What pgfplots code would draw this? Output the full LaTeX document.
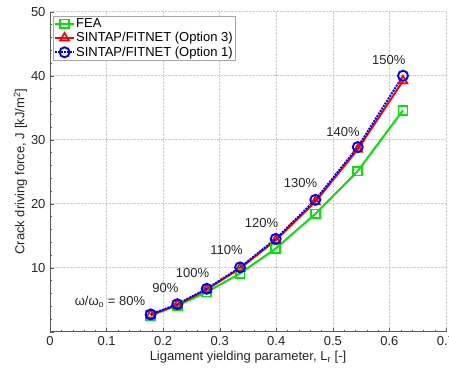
\documentclass[border=0pt]{standalone}
\usepackage{pgfplots}
\pgfplotsset{compat=1.18}
\usepackage{fontspec}
\setmainfont{Liberation Sans}
\begin{document}
\fontsize{13}{15}\selectfont
\begin{tikzpicture}
\begin{axis}[
  scale only axis,
  width=396pt, height=320pt,
  xmin=0, xmax=0.7, ymin=0, ymax=50,
  axis x line*=bottom, axis y line*=left,
  axis line style={gray!70!black, line width=0.8pt},
  xtick={0,0.1,...,0.7},
  xticklabels={0,0.1,0.2,0.3,0.4,0.5,0.6,0.7},
  ytick={0,10,20,30,40,50},
  yticklabels={,10,20,30,40,50},
  minor x tick num=4, minor y tick num=4,
  tick align=inside,
  major tick length=4pt, minor tick length=2pt,
  tick style={gray!70!black},
  ticklabel style={font=\fontsize{13}{15}\selectfont, text=black!85},
  /pgf/number format/assume math mode=true,
  grid=major,
  major grid style={densely dotted, gray!40, line width=0.5pt},
  xlabel={Ligament yielding parameter, L\textsubscript{r} [-]},
  ylabel={Crack driving force, J [kJ/m\textsuperscript{2}]},
  label style={font=\fontsize{13}{15}\selectfont, text=black!85},
  xlabel style={yshift=3pt},
  ylabel style={yshift=-5pt},
  legend style={at={(0.008,0.988)}, anchor=north west, draw=gray!70, line width=0.6pt,
    font=\fontsize{13}{14}\selectfont, inner sep=1pt, row sep=0pt,
    nodes={inner sep=1.5pt}},
  legend cell align=left,
  legend image code/.code={
    \draw[mark repeat=2,mark phase=2,#1]
      plot coordinates {(0cm,0cm) (0.32cm,0cm) (0.64cm,0cm)};},
  clip=false,
]
\addplot[color={rgb,255:red,0;green,230;blue,0}, line width=2pt, mark=square, mark size=4.4pt, mark options={fill=white, solid, line width=1.7pt}]
coordinates {(0.178,2.55) (0.225,4.06) (0.277,6.2) (0.336,9.1) (0.399,13.0) (0.469,18.4) (0.544,25.1) (0.624,34.6)};
\addlegendentry{FEA}
\addplot[color=red, line width=2pt, mark=triangle, mark size=5pt, mark options={fill=white, solid, line width=1.7pt}]
coordinates {(0.178,2.6) (0.225,4.2) (0.277,6.6) (0.336,9.9) (0.399,14.3) (0.469,20.3) (0.544,28.5) (0.624,39.2)};
\addlegendentry{SINTAP/FITNET (Option 3)}
\addplot[color=blue, line width=2pt, densely dotted, mark=o, mark size=5pt, mark options={fill=white, solid, line width=1.9pt}]
coordinates {(0.178,2.7) (0.225,4.3) (0.277,6.7) (0.336,10.05) (0.399,14.5) (0.469,20.6) (0.544,28.85) (0.624,40.0)};
\addlegendentry{SINTAP/FITNET (Option 1)}
\node[text=black!85] at (axis cs:0.106,4.7) {ω/ω\textsubscript{o} = 80\%};
\node[text=black!85] at (axis cs:0.204,6.9) {90\%};
\node[text=black!85] at (axis cs:0.252,9.2) {100\%};
\node[text=black!85] at (axis cs:0.312,12.7) {110\%};
\node[text=black!85] at (axis cs:0.374,17.0) {120\%};
\node[text=black!85] at (axis cs:0.443,23.2) {130\%};
\node[text=black!85] at (axis cs:0.518,31.25) {140\%};
\node[text=black!85] at (axis cs:0.599,42.4) {150\%};
\end{axis}
\pgfresetboundingbox
\path ([xshift=-50pt]current axis.south west |- current axis.outer south) rectangle ([xshift=3pt,yshift=11.7pt]current axis.north east);
\end{tikzpicture}
\end{document}
